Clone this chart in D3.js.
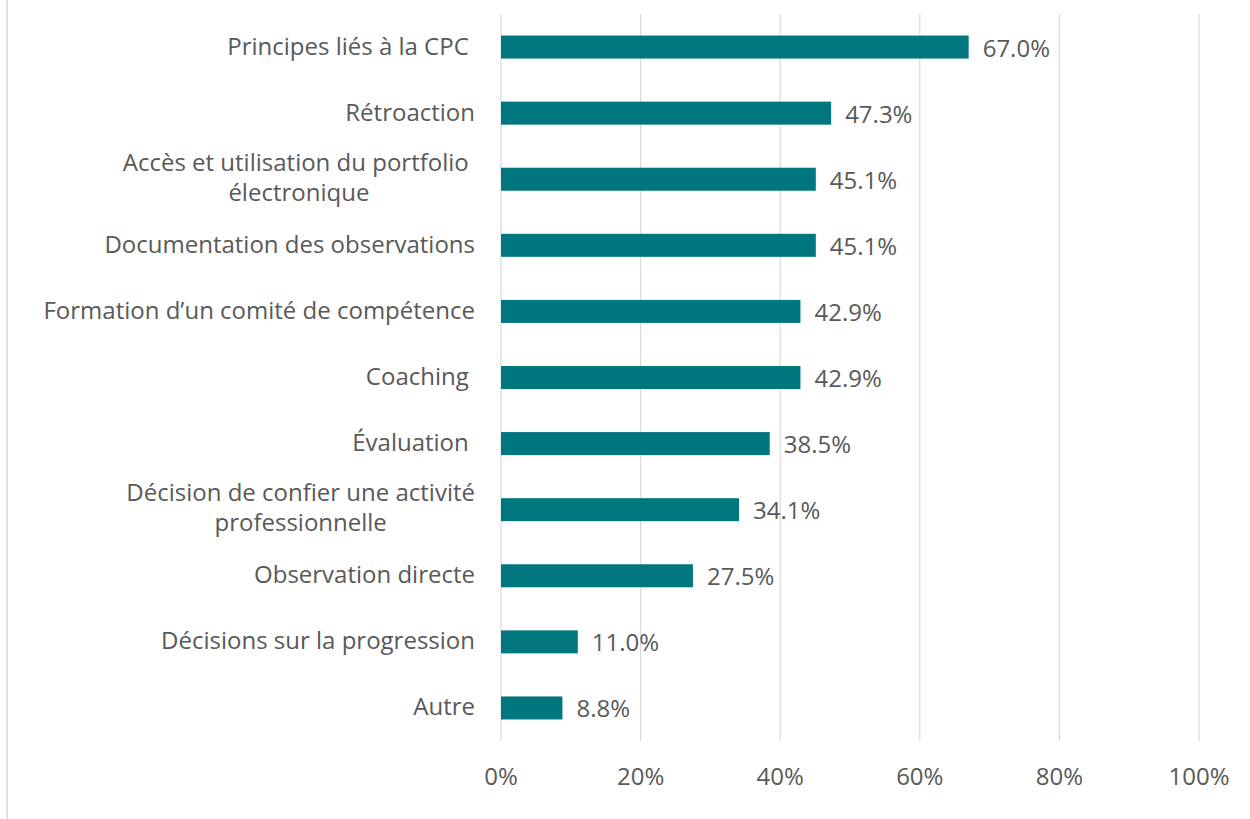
<!doctype html>
<html lang="fr">
<head>
<meta charset="utf-8">
<title>Bar chart</title>
<style>
  body { margin: 0; background: #fff; }
  svg { display: block; font-family: "Open Sans", sans-serif; }
  .lbl { fill: #595959; font-size: 24px; white-space: pre; }
</style>
</head>
<body>
<svg width="1250" height="819"></svg>
<script src="https://d3js.org/d3.v7.min.js"></script>
<script>
  // categories (multi-line labels split with \n)
  var categories = [
    "Principes liés à la CPC ",
    "Rétroaction",
    "Accès et utilisation du portfolio \nélectronique",
    "Documentation des observations",
    "Formation d’un comité de compétence",
    "Coaching ",
    "Évaluation ",
    "Décision de confier une activité\nprofessionnelle",
    "Observation directe",
    "Décisions sur la progression",
    "Autre"
  ];
  var values = [67.0, 47.3, 45.1, 45.1, 42.9, 42.9, 38.5, 34.1, 27.5, 11.0, 8.8];
  var ticks = [0, 20, 40, 60, 80, 100];

  var svg = d3.select("svg");

  var x = d3.scaleLinear().domain([0, 100]).range([501, 1199]);
  var y = d3.scaleBand().domain(categories).range([14, 741])
    .paddingInner(0.652).paddingOuter(0.326);

  // left border of chart area
  svg.append("line")
    .attr("x1", 7).attr("x2", 7).attr("y1", 0).attr("y2", 819)
    .attr("stroke", "#d9d9d9").attr("stroke-width", 1.5);

  // gridlines
  svg.append("g").selectAll("line").data(ticks).join("line")
    .attr("x1", d => x(d)).attr("x2", d => x(d))
    .attr("y1", 14).attr("y2", 741)
    .attr("stroke", "#d9d9d9").attr("stroke-width", 1.2);

  // axis tick labels
  svg.append("g").selectAll("text").data(ticks).join("text")
    .attr("class", "lbl")
    .attr("x", d => x(d)).attr("y", 785)
    .attr("text-anchor", "middle")
    .text(d => d + "%");

  // bars
  svg.append("g").selectAll("rect").data(values).join("rect")
    .attr("x", x(0))
    .attr("y", (d, i) => y(categories[i]))
    .attr("width", d => x(d) - x(0))
    .attr("height", y.bandwidth())
    .attr("fill", "#00767f");

  // value labels
  svg.append("g").selectAll("text").data(values).join("text")
    .attr("class", "lbl")
    .attr("x", d => x(d) + 14)
    .attr("y", (d, i) => y(categories[i]) + y.bandwidth() / 2 + 9.5)
    .text(d => d.toFixed(1) + "%");

  // category labels
  var right = 475;
  categories.forEach(function (c) {
    var lines = c.split("\n");
    var cy = y(c) + y.bandwidth() / 2;
    if (lines.length === 1) {
      svg.append("text").attr("class", "lbl")
        .attr("x", right).attr("y", cy + 7.5)
        .attr("text-anchor", "end").text(c);
    } else {
      var t = svg.append("text").attr("class", "lbl").attr("text-anchor", "middle");
      var spans = lines.map(function (l, k) {
        return t.append("tspan").attr("y", cy - 8.5 + k * 30).text(l);
      });
      var w = d3.max(spans, s => s.node().getComputedTextLength());
      spans.forEach(s => s.attr("x", right - w / 2));
    }
  });
</script>
</body>
</html>
